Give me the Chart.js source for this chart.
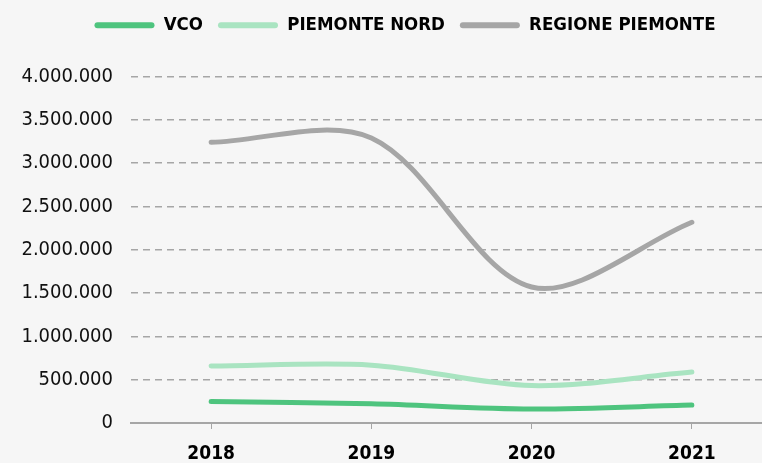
<!DOCTYPE html>
<html>
<head>
<meta charset="utf-8">
<script src="https://cdn.jsdelivr.net/npm/chart.js@4/dist/chart.umd.min.js"></script>
<style>
    html, body { margin: 0; padding: 0; background: #f6f6f6; overflow: hidden; }
    #wrap { width: 762px; height: 463px; overflow: hidden; }
    canvas { display: block; }
</style>
</head>
<body>
<div id="wrap"><canvas id="chart" width="772" height="463"></canvas></div>
<script>
// Dati
const anni = ['2018', '2019', '2020', '2021'];
const vco = [249000, 222000, 162000, 207000];
const piemonteNord = [657000, 668000, 432000, 588000];
const regionePiemonte = [3240000, 3290000, 1570000, 2317000];
const tickValori = [0, 500000, 1000000, 1500000, 2000000, 2500000, 3000000, 3500000, 4000000];

const FONT = "'Liberation Sans Narrow', 'DejaVu Sans Condensed', 'Roboto', sans-serif";

function formatta(v) {
    return String(v).replace(/\B(?=(\d{3})+(?!\d))/g, '.');
}

// spazio extra sotto la legenda e legenda spostata a destra
const legendaMargine = {
    id: 'legendaMargine',
    beforeInit(chart) {
        const fit = chart.legend.fit;
        chart.legend.fit = function() {
            fit.bind(chart.legend)();
            this.height += 33;
        };
    },
    afterLayout(chart) {
        chart.legend.left += 19;
        chart.legend.right += 19;
        chart.legend.top += 1;
    }
};

function serie(label, data, colore) {
    return {
        label: label,
        data: data,
        borderColor: colore,
        backgroundColor: colore,
        borderWidth: 5,
        borderCapStyle: 'round',
        pointRadius: 0,
        pointHoverRadius: 0,
        tension: 0.32,
        fill: false
    };
}

new Chart(document.getElementById('chart').getContext('2d'), {
    type: 'line',
    data: {
        labels: anni,
        datasets: [
            serie('VCO', vco, '#4ec47e'),
            serie('PIEMONTE NORD', piemonteNord, '#a9e4c1'),
            serie('REGIONE PIEMONTE', regionePiemonte, '#a6a6a6')
        ]
    },
    plugins: [legendaMargine],
    options: {
        responsive: false,
        animation: false,
        layout: { padding: 0 },
        plugins: {
            legend: {
                position: 'top',
                align: 'center',
                labels: {
                    boxWidth: 60,
                    boxHeight: 6,
                    useBorderRadius: true,
                    borderRadius: 3,
                    padding: 15,
                    color: '#000',
                    font: { family: FONT, size: 18.5, weight: 'bold' },
                    generateLabels(chart) {
                        const items = Chart.defaults.plugins.legend.labels.generateLabels(chart);
                        items.forEach(it => { it.lineWidth = 0; });
                        return items;
                    }
                }
            },
            tooltip: { enabled: false }
        },
        scales: {
            x: {
                offset: true,
                grid: {
                    display: true,
                    drawOnChartArea: false,
                    drawTicks: true,
                    tickLength: 6,
                    offset: false,
                    color: '#a6a6a6'
                },
                border: { display: true, color: '#a6a6a6', width: 2 },
                ticks: {
                    padding: 14,
                    color: '#000',
                    font: { family: FONT, size: 19, weight: 'bold' }
                },
                afterFit(scale) { scale.height = 40; }
            },
            y: {
                min: 0,
                max: 4000000,
                afterBuildTicks(scale) {
                    scale.ticks = tickValori.map(v => ({ value: v }));
                },
                grid: {
                    drawTicks: false,
                    color: '#a6a6a6',
                    lineWidth: 1.5
                },
                border: { display: false, dash: [7, 5] },
                ticks: {
                    padding: 18,
                    color: '#111',
                    font: { family: FONT, size: 20 },
                    callback: v => formatta(v)
                },
                afterFit(scale) { scale.width = 131; }
            }
        }
    }
});
</script>
</body>
</html>
